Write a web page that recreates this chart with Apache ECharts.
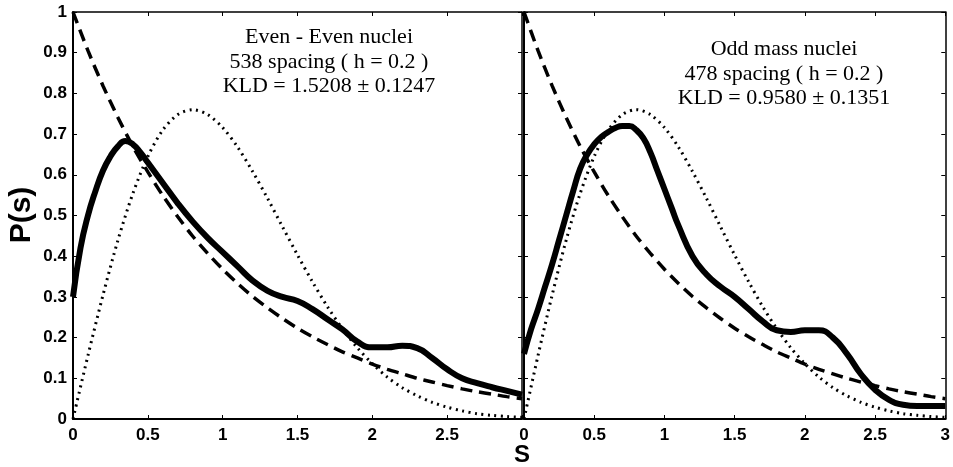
<!DOCTYPE html>
<html>
<head>
<meta charset="utf-8">
<script src="https://cdn.jsdelivr.net/npm/echarts@6/dist/echarts.min.js"></script>
<style>
html,body{margin:0;padding:0;background:#fff;}
#chart{width:953px;height:467px;}
</style>
</head>
<body>
<div id="chart"></div>
<script>
// reference curves at s = 0, 0.1, ... 3
var sRef = [0,0.1,0.2,0.3,0.4,0.5,0.6,0.7,0.8,0.9,1.0,1.1,1.2,1.3,1.4,1.5,1.6,1.7,1.8,1.9,2.0,2.1,2.2,2.3,2.4,2.5,2.6,2.7,2.8,2.9,3.0];
var poisson = [1,0.905,0.819,0.741,0.670,0.607,0.549,0.497,0.449,0.407,0.368,0.333,0.301,0.273,0.247,0.223,0.202,0.183,0.165,0.150,0.135,0.122,0.111,0.100,0.091,0.082,0.074,0.067,0.061,0.055,0.050];
var wigner = [0,0.156,0.304,0.439,0.554,0.645,0.710,0.748,0.760,0.748,0.716,0.668,0.608,0.542,0.472,0.403,0.337,0.276,0.222,0.175,0.136,0.103,0.077,0.057,0.041,0.029,0.020,0.013,0.009,0.006,0.004];

// Even - Even nuclei
var sEven = [0,0.05,0.1,0.15,0.2,0.25,0.3,0.35,0.4,0.45,0.5,0.6,0.7,0.8,0.9,1.0,1.1,1.2,1.3,1.4,1.5,1.6,1.7,1.8,1.9,2.0,2.1,2.2,2.3,2.4,2.5,2.6,2.7,2.8,2.9,3.0];
var pEven = [0.30,0.42,0.50,0.56,0.61,0.645,0.67,0.683,0.675,0.655,0.63,0.58,0.53,0.485,0.445,0.41,0.375,0.34,0.315,0.30,0.29,0.27,0.245,0.22,0.19,0.176,0.176,0.18,0.174,0.15,0.122,0.10,0.088,0.078,0.069,0.06];

// Odd mass nuclei
var sOdd = [0,0.05,0.1,0.15,0.2,0.25,0.3,0.35,0.4,0.45,0.5,0.55,0.6,0.65,0.7,0.75,0.8,0.85,0.9,0.95,1.0,1.05,1.1,1.2,1.3,1.4,1.5,1.6,1.7,1.8,1.9,2.0,2.1,2.2,2.3,2.4,2.5,2.6,2.7,2.8,2.9,3.0];
var pOdd = [0.16,0.22,0.27,0.325,0.38,0.44,0.50,0.56,0.615,0.65,0.675,0.693,0.705,0.715,0.72,0.72,0.71,0.69,0.655,0.61,0.565,0.52,0.475,0.40,0.355,0.325,0.30,0.27,0.24,0.218,0.214,0.218,0.218,0.20,0.16,0.11,0.072,0.047,0.035,0.032,0.032,0.032];

var xTicks = 0.5, yTicks = 0.1;

function pairs(xs, ys) {
    var out = [];
    for (var i = 0; i < xs.length; i++) out.push([xs[i], ys[i]]);
    return out;
}

var myChart = echarts.init(document.getElementById('chart'));

var noteFont = 'Liberation Serif';

function xAx(grid, pos, showLabel, hideLast) {
    return {
        type: 'value', gridIndex: grid, position: pos, min: 0, max: 3, interval: xTicks,
        axisLine: {show: true, onZero: false, lineStyle: {color: '#000', width: pos == 'bottom' ? 2 : 1.5}},
        axisTick: {show: true, inside: true, length: 4, lineStyle: {color: '#000', width: 1}},
        axisLabel: {show: showLabel, margin: 8, fontFamily: 'Liberation Sans', fontWeight: 'bold', fontSize: 17, color: '#000',
            formatter: function (v) { return (hideLast && v == 3) ? '' : String(v); }},
        splitLine: {show: false}
    };
}
function yAx(grid, pos, showLabel) {
    return {
        type: 'value', gridIndex: grid, position: pos, min: 0, max: 1, interval: yTicks,
        axisLine: {show: true, onZero: false, lineStyle: {color: '#000', width: pos == 'left' ? 2 : 1.5}},
        axisTick: {show: true, inside: true, length: 4, lineStyle: {color: '#000', width: 1}},
        axisLabel: {show: showLabel, margin: 6, fontFamily: 'Liberation Sans', fontWeight: 'bold', fontSize: 17, color: '#000',
            formatter: function (v) { return String(Math.round(v * 10) / 10); }},
        splitLine: {show: false}
    };
}

function line(xi, yi, data, kind) {
    var ls = {color: '#000'};
    if (kind == 'solid') { ls.width = 6; ls.type = 'solid'; }
    if (kind == 'dashed') { ls.width = 3.5; ls.type = [12, 7]; }
    if (kind == 'dotted') { ls.width = 3; ls.type = [2, 4.5]; }
    return {
        type: 'line', xAxisIndex: xi, yAxisIndex: yi, data: data,
        showSymbol: false, smooth: kind == 'solid' ? 0.5 : 0.3,
        lineStyle: ls, silent: true, animation: false
    };
}

var option = {
    backgroundColor: '#fff',
    animation: false,
    grid: [
        {left: 73, top: 12, width: 449, height: 407},
        {left: 524, top: 12, width: 426, height: 407}
    ],
    xAxis: [
        xAx(0, 'bottom', true, true),
        xAx(0, 'top', false, false),
        xAx(1, 'bottom', true, false),
        xAx(1, 'top', false, false)
    ],
    yAxis: [
        yAx(0, 'left', true),
        yAx(0, 'right', false),
        yAx(1, 'left', false),
        yAx(1, 'right', false)
    ],
    series: [
        line(0, 0, pairs(sRef, poisson), 'dashed'),
        line(0, 0, pairs(sRef, wigner), 'dotted'),
        line(0, 0, pairs(sEven, pEven), 'solid'),
        line(2, 2, pairs(sRef, poisson), 'dashed'),
        line(2, 2, pairs(sRef, wigner), 'dotted'),
        line(2, 2, pairs(sOdd, pOdd), 'solid')
    ],
    graphic: [
        {type: 'text', x: 22, y: 215, rotation: Math.PI / 2,
            style: {text: 'P(s)', fontFamily: 'Liberation Sans', fontWeight: 'bold', fontSize: 30, fill: '#000', textAlign: 'center', textVerticalAlign: 'middle'}},
        {type: 'text', x: 522, y: 455,
            style: {text: 'S', fontFamily: 'Liberation Sans', fontWeight: 'bold', fontSize: 24, fill: '#000', textAlign: 'center', textVerticalAlign: 'middle'}},
        {type: 'text', x: 329, y: 25,
            style: {text: 'Even - Even nuclei\n538 spacing ( h = 0.2 )\nKLD = 1.5208 \u00b1 0.1247', fontFamily: noteFont, fontSize: 22, lineHeight: 24.5, fill: '#000', textAlign: 'center'}},
        {type: 'text', x: 784, y: 37,
            style: {text: 'Odd mass nuclei\n478 spacing ( h = 0.2 )\nKLD = 0.9580 \u00b1 0.1351', fontFamily: noteFont, fontSize: 22, lineHeight: 24.5, fill: '#000', textAlign: 'center'}}
    ]
};
myChart.setOption(option);
</script>
</body>
</html>
